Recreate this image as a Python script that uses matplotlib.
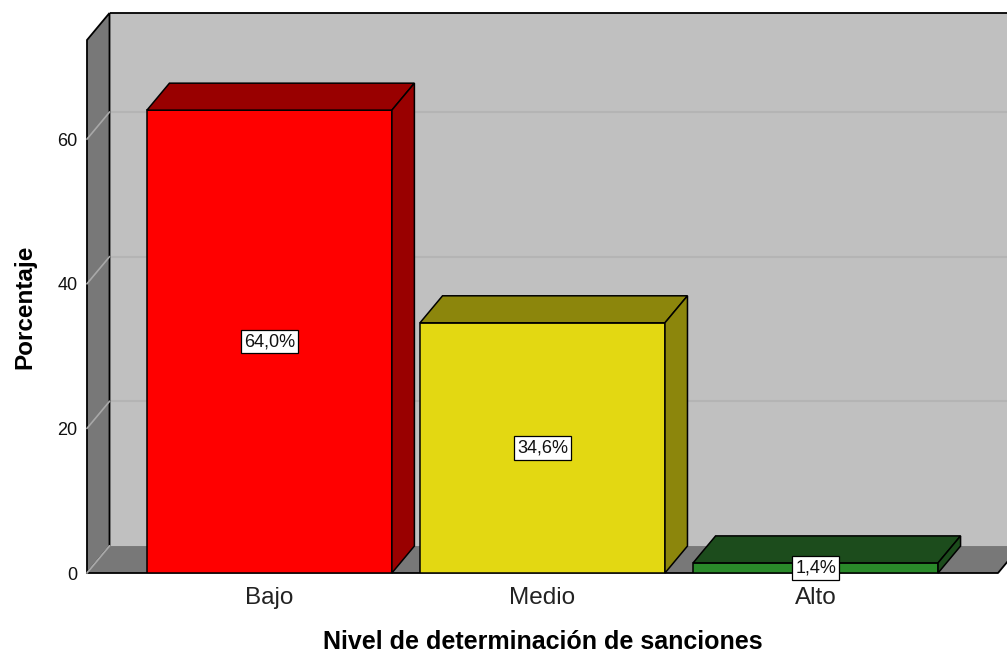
import matplotlib
matplotlib.use('Agg')
import matplotlib.pyplot as plt
from matplotlib.patches import Polygon, Rectangle

# Datos
categorias = ['Bajo', 'Medio', 'Alto']
porcentajes = [64.0, 34.6, 1.4]
marcas_y = [0, 20, 40, 60]

# Estilo
colores_frente = ['#ff0000', '#e3d812', '#2a8a2a']
colores_sombra = ['#990000', '#8c860c', '#1c4c1c']
pared_fondo = '#c0c0c0'
pared_lado = '#787878'

plt.rcParams['font.family'] = ['Liberation Sans', 'DejaVu Sans']

W, H = 1007, 655
fig = plt.figure(figsize=(W / 100, H / 100), dpi=100)
ax = fig.add_axes([87 / W, 82 / H, 911 / W, 533 / H])

x_lo, x_hi = -0.668, 2.668
y_top = 73.7
ax.set_xlim(x_lo, x_hi)
ax.set_ylim(0, y_top)

# profundidad de la perspectiva (en unidades de datos)
dx, dy = 0.0824, 3.73
ancho = 0.897

# pared del fondo
ax.add_patch(Rectangle((x_lo + dx, dy), (x_hi - x_lo) + 0.3, y_top,
                       facecolor=pared_fondo, edgecolor='none', zorder=1, clip_on=False))
ax.plot([x_lo + dx, x_hi + 0.4], [y_top + dy] * 2, color='black', lw=1.3,
        zorder=2, clip_on=False, solid_capstyle='butt')

# líneas de cuadrícula sobre la pared del fondo
for v in marcas_y[1:]:
    ax.plot([x_lo + dx, x_hi + 0.4], [v + dy] * 2, color='#b4b4b4', lw=1.5,
            zorder=1.5, clip_on=False)

# pared lateral
ax.add_patch(Polygon([(x_lo, 0), (x_lo + dx, dy), (x_lo + dx, y_top + dy), (x_lo, y_top)],
                     closed=True, facecolor=pared_lado, edgecolor='black', lw=1.3,
                     zorder=2, clip_on=False, joinstyle='miter'))
for v in marcas_y:
    ax.plot([x_lo, x_lo + dx], [v, v + dy], color='#a8a8a8', lw=1.2, zorder=2.5, clip_on=False)

# suelo
ax.add_patch(Polygon([(x_lo, 0), (x_hi, 0), (x_hi + dx, dy), (x_lo + dx, dy)],
                     closed=True, facecolor=pared_lado, edgecolor='none', zorder=3, clip_on=False))
ax.plot([x_lo, x_hi, x_hi + dx], [0, 0, dy], color='black', lw=1.3, zorder=3.5, clip_on=False)
ax.plot([x_lo, x_lo + dx], [0, dy], color='#a8a8a8', lw=1.2, zorder=3.6, clip_on=False)

# barras
xs = list(range(len(categorias)))
ax.bar(xs, porcentajes, width=ancho, color=colores_frente, edgecolor='black',
       linewidth=1.1, zorder=5)
for x, h, cs in zip(xs, porcentajes, colores_sombra):
    l, r = x - ancho / 2, x + ancho / 2
    ax.add_patch(Polygon([(l, h), (r, h), (r + dx, h + dy), (l + dx, h + dy)], closed=True,
                         facecolor=cs, edgecolor='black', lw=1.1, zorder=5, clip_on=False))
    ax.add_patch(Polygon([(r, 0), (r + dx, dy), (r + dx, h + dy), (r, h)], closed=True,
                         facecolor=cs, edgecolor='black', lw=1.1, zorder=5, clip_on=False))

# etiquetas de valor
for x, h in zip(xs, porcentajes):
    ax.text(x, h / 2, f'{h:.1f}%'.replace('.', ','), ha='center', va='center',
            fontsize=13, zorder=7, color='#111111',
            bbox=dict(boxstyle='square,pad=0.18', facecolor='white', edgecolor='black', lw=0.9))

# ejes
for s in ax.spines.values():
    s.set_visible(False)
ax.patch.set_visible(False)
ax.set_yticks(marcas_y)
ax.set_xticks(xs, categorias)
ax.tick_params(axis='y', length=0, pad=7, labelsize=13, labelcolor='#111111')
ax.tick_params(axis='x', length=0, pad=10, labelsize=17.5, labelcolor='#222222')
ax.set_xlabel('Nivel de determinación de sanciones', fontsize=18, fontweight='bold', labelpad=15)
ax.set_ylabel('Porcentaje', fontsize=17.5, fontweight='bold', labelpad=15)

fig.savefig('out.png', dpi=100)
